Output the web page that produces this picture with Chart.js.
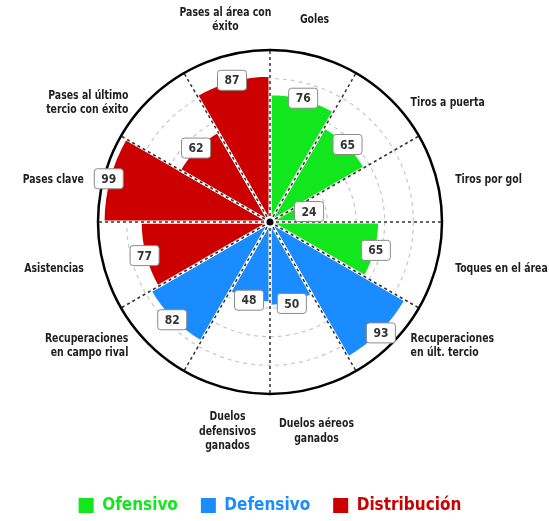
<!DOCTYPE html>
<html>
<head>
<meta charset="utf-8">
<script src="https://cdn.jsdelivr.net/npm/chart.js@4"></script>
<style>
  html, body { margin: 0; padding: 0; background: #fff; }
  #wrap { width: 549px; height: 521px; }
</style>
</head>
<body>
<div id="wrap"><canvas id="chart"></canvas></div>
<script>
// categories go clockwise starting at 12 o'clock
const categories = [
    ['Goles'],
    ['Tiros a puerta'],
    ['Tiros por gol'],
    ['Toques en el área'],
    ['Recuperaciones', 'en últ. tercio'],
    ['Duelos aéreos', 'ganados'],
    ['Duelos', 'defensivos', 'ganados'],
    ['Recuperaciones', 'en campo rival'],
    ['Asistencias'],
    ['Pases clave'],
    ['Pases al último', 'tercio con éxito'],
    ['Pases al área con', 'éxito'],
];
const values = [76, 65, 24, 65, 93, 50, 48, 82, 77, 99, 62, 87];
const groups = ['Ofensivo', 'Defensivo', 'Distribución'];
const groupColors = ['#12e61c', '#1a8cff', '#cc0000'];
const groupOf = [0, 0, 0, 0, 1, 1, 1, 1, 2, 2, 2, 2];
const scaleMax = 102;
const scaleStep = 17;

const FONT = "'DejaVu Sans Condensed', 'DejaVu Sans', sans-serif";

// dashed spokes on top of the segments, plus the dot in the middle
const spokesPlugin = {
    id: 'spokes',
    afterDatasetsDraw(chart) {
        const ctx = chart.ctx;
        const r = chart.scales.r;
        ctx.save();
        ctx.setLineDash([3, 3]);
        ctx.strokeStyle = '#333';
        ctx.lineWidth = 1.5;
        for (let i = 0; i < categories.length; i++) {
            const p = r.getPointPosition(i, r.drawingArea);
            ctx.beginPath();
            ctx.moveTo(r.xCenter, r.yCenter);
            ctx.lineTo(p.x, p.y);
            ctx.stroke();
        }
        ctx.setLineDash([]);
        ctx.beginPath();
        ctx.arc(r.xCenter, r.yCenter, 4.5, 0, Math.PI * 2);
        ctx.fillStyle = '#000';
        ctx.fill();
        ctx.lineWidth = 2;
        ctx.strokeStyle = '#fff';
        ctx.stroke();
        ctx.restore();
    }
};

// white boxes with the value, sitting on the end of each segment
const valueBoxes = {
    id: 'valueBoxes',
    afterDatasetsDraw(chart) {
        const ctx = chart.ctx;
        const meta = chart.getDatasetMeta(0);
        ctx.save();
        ctx.font = 'bold 12px ' + FONT;
        ctx.textAlign = 'center';
        ctx.textBaseline = 'middle';
        meta.data.forEach((arc, i) => {
            const mid = (arc.startAngle + arc.endAngle) / 2;
            const x = arc.x + Math.cos(mid) * arc.outerRadius;
            const y = arc.y + Math.sin(mid) * arc.outerRadius;
            const w = 29, h = 20;
            ctx.fillStyle = '#fff';
            ctx.strokeStyle = '#8a8a8a';
            ctx.lineWidth = 1;
            ctx.beginPath();
            ctx.roundRect(x - w / 2, y - h / 2, w, h, 3);
            ctx.fill();
            ctx.stroke();
            ctx.fillStyle = '#333';
            ctx.fillText(String(values[i]), x, y + 1);
        });
        ctx.restore();
    }
};

// category names around the rim: sides hug the circle, top/bottom are centred.
// the source uses a tall condensed face, so squeeze the text horizontally a bit
const rimLabels = {
    id: 'rimLabels',
    afterDraw(chart) {
        const ctx = chart.ctx;
        const r = chart.scales.r;
        const n = categories.length;
        const lh = 14.5;
        ctx.save();
        ctx.font = 'bold 13px ' + FONT;
        ctx.fillStyle = '#1e1e1e';
        ctx.textBaseline = 'middle';
        categories.forEach((lines, i) => {
            const p = r.getPointPosition(i, r.drawingArea, Math.PI / n);
            const deg = (i + 0.5) * 360 / n;
            const h = lines.length * lh;
            let x = p.x, yMid;
            if (deg < 30 || deg > 330) {
                ctx.textAlign = 'center';
                yMid = p.y - 36;
            } else if (deg > 150 && deg < 210) {
                ctx.textAlign = 'center';
                x = p.x + 2;
                yMid = p.y + 43;
            } else if (deg < 180) {
                ctx.textAlign = 'left';
                x = p.x + 19;
                yMid = p.y + 2;
            } else {
                ctx.textAlign = 'right';
                x = p.x - 20;
                yMid = p.y + 2;
            }
            lines.forEach((t, k) => {
                ctx.save();
                ctx.translate(x, yMid - h / 2 + lh * (k + 0.5));
                ctx.scale(0.8, 1);
                ctx.fillText(t, 0, 0);
                ctx.restore();
            });
        });
        ctx.restore();
    }
};

new Chart(document.getElementById('chart'), {
    type: 'polarArea',
    data: {
        labels: categories,
        datasets: [{
            data: values,
            backgroundColor: groupOf.map(g => groupColors[g]),
            borderColor: '#fff',
            borderWidth: 3,
        }]
    },
    options: {
        responsive: true,
        maintainAspectRatio: false,
        animation: false,
        layout: { padding: { top: 50, left: 0, right: 9, bottom: -3 } },
        scales: {
            r: {
                min: 0,
                max: scaleMax,
                ticks: { stepSize: scaleStep, display: false },
                grid: {
                    circular: true,
                    color: c => c.tick.value === scaleMax ? '#000' : '#c8c8c8',
                    lineWidth: c => c.tick.value === scaleMax ? 2.5 : 1.2,
                },
                border: {
                    dash: c => (c.tick && c.tick.value === scaleMax) ? [] : [4, 4],
                },
                angleLines: { display: false },
                pointLabels: { display: false },
            }
        },
        plugins: {
            tooltip: { enabled: false },
            legend: {
                position: 'bottom',
                onClick: null,
                // empty title only used to push the legend row down to the bottom
                title: {
                    display: true,
                    text: '',
                    font: { size: 10, lineHeight: 1 },
                    padding: { top: 70, bottom: 0 },
                },
                labels: {
                    boxWidth: 15,
                    boxHeight: 15,
                    padding: 23,
                    font: { family: FONT, size: 17, weight: 'bold' },
                    generateLabels: () => groups.map((g, k) => ({
                        text: g,
                        fillStyle: groupColors[k],
                        strokeStyle: groupColors[k],
                        lineWidth: 0,
                        fontColor: groupColors[k],
                        hidden: false,
                        index: k,
                    })),
                },
            },
        },
    },
    plugins: [spokesPlugin, valueBoxes, rimLabels],
});
</script>
</body>
</html>
